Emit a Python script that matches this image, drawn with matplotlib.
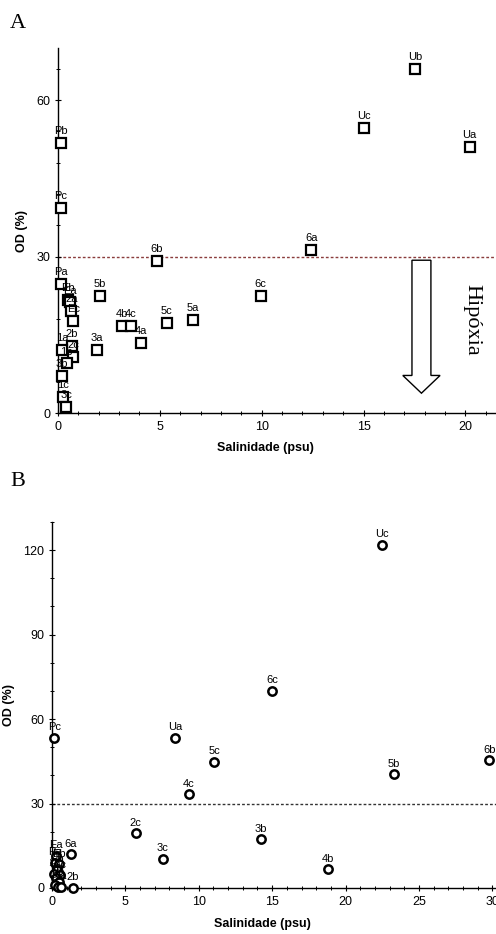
import numpy as np
import matplotlib
matplotlib.use("Agg")
import matplotlib.pyplot as plt
from matplotlib.patches import FancyArrow
from matplotlib.ticker import MultipleLocator, AutoMinorLocator

# panel A - squares
sal_a = [17.53, 15.02, 20.2, 0.15, 0.15, 12.43, 4.84, 9.95, 6.63, 2.06, 5.33,
         4.05, 3.15, 3.56, 1.9, 0.13,
         0.50, 0.60, 0.66, 0.76, 0.67, 0.76, 0.22, 0.43, 0.18, 0.26, 0.40]
od_a = [66.0, 54.6, 51.0, 51.7, 39.3, 31.2, 29.2, 22.5, 17.9, 22.4, 17.2,
        13.4, 16.7, 16.6, 12.0, 24.7,
        21.6, 21.2, 19.6, 17.6, 12.8, 10.7, 12.1, 9.5, 7.1, 3.1, 1.2]
lab_a = ['Ub', 'Uc', 'Ua', 'Pb', 'Pc', '6a', '6b', '6c', '5a', '5b', '5c',
         '4a', '4b', '4c', '3a', 'Pa',
         'Eb', 'Ea', '2a', 'Ec', '2b', '2c', '1a', '1b', '3b', '1c', '3c']

# panel B - circles
sal_b = [22.5, 15.0, 0.16, 8.41, 11.04, 23.3, 29.8, 9.32, 5.71, 14.26, 7.55,
         18.8, 1.27, 1.41,
         0.3, 0.2, 0.5, 0.35, 0.15, 0.55, 0.3, 0.45, 0.2, 0.4, 0.6]
od_b = [122.0, 70.0, 53.4, 53.4, 44.8, 40.4, 45.4, 33.3, 19.4, 17.3, 10.3,
        6.7, 12.0, 0.0,
        11.5, 9.0, 8.5, 6.5, 5.0, 4.5, 3.5, 2.0, 1.0, 0.3, 0.5]
lab_b = ['Uc', '6c', 'Pc', 'Ua', '5c', '5b', '6b', '4c', '2c', '3b', '3c',
         '4b', '6a', '2b',
         'Ea', 'Pa', 'Eb', 'Pb', '1a', 'Ec', '1b', '2a', '1c', '3a', '4a']

hipoxia = 30

plt.rcParams['font.family'] = ['Liberation Sans', 'DejaVu Sans']

fig = plt.figure(figsize=(4.96, 9.34), dpi=100)
axA = fig.add_axes([58/496, 1-413/934, 1-58/496, 365/934])
axB = fig.add_axes([52/496, 1-888/934, 1-52/496, 366/934])


def style(ax, xmax, ymax, ystep, yminor):
    ax.set_xlim(0, xmax)
    ax.set_ylim(0, ymax)
    ax.xaxis.set_major_locator(MultipleLocator(5))
    ax.xaxis.set_minor_locator(AutoMinorLocator(5))
    ax.yaxis.set_major_locator(MultipleLocator(ystep))
    ax.yaxis.set_minor_locator(AutoMinorLocator(yminor))
    for s in ['top', 'right']:
        ax.spines[s].set_visible(False)
    for s in ['left', 'bottom']:
        ax.spines[s].set_linewidth(1.0)
    ax.tick_params(which='major', direction='inout', length=5, width=0.8,
                   labelsize=9, pad=3)
    ax.tick_params(which='minor', direction='inout', length=3, width=0.7)
    ax.set_xlabel('Salinidade (psu)', fontsize=9, fontweight='bold')
    ax.set_ylabel('OD (%)', fontsize=9, fontweight='bold')


style(axA, 21.5, 70, 30, 5)
style(axB, 30.25, 130, 30, 3)
axA.xaxis.set_label_coords(0.473, -0.079)
axB.xaxis.set_label_coords(0.473, -0.082)
axA.yaxis.set_label_coords(-0.068, 0.5)
axB.yaxis.set_label_coords(-0.083, 0.5)

# panel A
axA.axhline(hipoxia, color='#8a3c3c', lw=1, ls=(0, (2, 1.5)), zorder=1)
axA.plot(sal_a, od_a, ls='none', marker='s', ms=7, mfc='white', mec='black',
         mew=1.6, clip_on=False, zorder=3)
for x, y, t in zip(sal_a, od_a, lab_a):
    axA.annotate(t, (x, y), xytext=(0, 5), textcoords='offset points',
                 ha='center', va='bottom', fontsize=8, zorder=4)

axA.add_patch(FancyArrow(17.84, 29.3, 0, -25.5, width=0.93, head_width=1.83,
                         head_length=3.4, length_includes_head=True,
                         fc='white', ec='black', lw=1, zorder=2))
axA.text(20.34, 17.9, 'Hipóxia', rotation=-90, ha='center', va='center',
         fontsize=16, family='Liberation Serif')

# panel B
axB.axhline(hipoxia, color='#333333', lw=1, ls=(0, (2, 1.5)), zorder=1)
axB.plot(sal_b, od_b, ls='none', marker='o', ms=6, mfc='white', mec='black',
         mew=1.8, clip_on=False, zorder=3)
for x, y, t in zip(sal_b, od_b, lab_b):
    axB.annotate(t, (x, y), xytext=(0, 4), textcoords='offset points',
                 ha='center', va='bottom', fontsize=8, zorder=4,
                 annotation_clip=False)

fig.text(10/496, 1-23/934, 'A', fontsize=16, family='Liberation Serif',
         ha='left', va='center')
fig.text(10/496, 1-482/934, 'B', fontsize=16, family='Liberation Serif',
         ha='left', va='center')

fig.savefig('out.png', dpi=100)
